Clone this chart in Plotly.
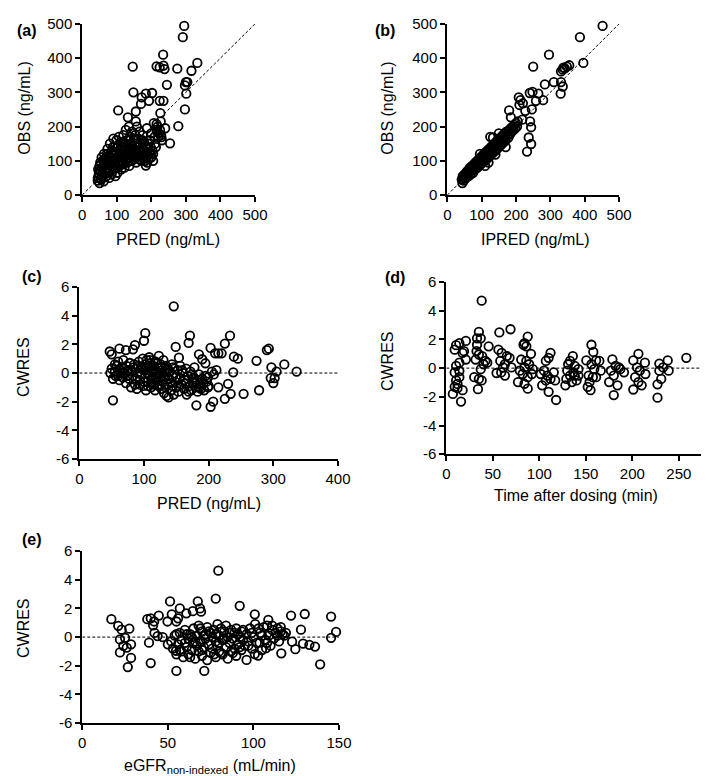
import plotly.graph_objects as go

W, H = 709, 776

# ---------------- Data ----------------
# (a) OBS vs PRED
a_pred = [295, 291, 234, 333, 146, 215, 224, 235, 238, 275, 316, 300, 304, 297, 245, 148, 301, 172, 184, 202,
          193, 170, 224, 235, 297, 104, 155, 278, 215, 227, 132, 155, 254, 226, 229, 215, 240, 230, 205, 200,
          184, 188,
          47, 48, 50, 50, 52, 53, 55, 56, 58, 60, 46, 57,
          62, 63, 65, 66, 68, 70, 72, 73, 75, 76, 78, 79, 80,
          82, 83, 85, 86, 88, 90, 91, 92, 94, 95, 96, 98, 99,
          100, 101, 102, 104, 105, 106, 108, 109, 110, 112, 113, 114, 116, 118, 119, 120,
          121, 122, 124, 125, 126, 128, 129, 130, 132, 133, 135, 136, 138, 139,
          140, 141, 143, 144, 146, 147, 149, 150, 152, 153, 155, 156, 158, 159,
          160, 162, 164, 165, 166, 168, 170, 171, 173, 175, 176, 178, 179,
          180, 182, 183, 185, 187, 189, 190, 192, 194, 196, 198,
          200, 203, 205, 207, 209, 211, 213, 216, 218, 220, 222, 225, 228,
          45, 50, 54, 58, 61, 64, 67, 69, 71, 74, 77, 81, 84, 87, 89, 93, 97, 101, 103, 107,
          111, 115, 117, 123, 127, 131, 134, 137, 142, 148, 151, 157, 163, 167, 174, 181, 186, 191, 197, 45, 53]
a_obs = [494, 461, 410, 386, 375, 376, 373, 378, 368, 369, 363, 330, 330, 320, 322, 300, 296, 285, 296, 298,
         275, 266, 275, 275, 250, 247, 244, 201, 207, 215, 227, 215, 151, 239, 169, 191, 195, 160, 100, 110,
         86, 95,
         52, 62, 35, 85, 95, 70, 45, 110, 80, 100, 75, 58,
         40, 120, 90, 65, 105, 55, 80, 135, 95, 115, 50, 70, 150,
         90, 110, 60, 130, 100, 165, 75, 120, 140, 88, 55, 105, 160,
         125, 95, 65, 145, 110, 170, 85, 130, 100, 155, 75, 120, 140, 90, 175, 110,
         130, 80, 150, 100, 190, 120, 160, 95, 140, 110, 200, 85, 130, 170,
         115, 150, 100, 185, 135, 120, 160, 105, 145, 175, 125, 95, 200, 140,
         115, 165, 130, 105, 185, 150, 120, 100, 140, 175, 125, 110, 155,
         130, 100, 145, 120, 195, 135, 115, 105, 125, 160, 140,
         180, 130, 120, 210, 170, 150, 140, 185, 200, 170, 180, 190, 175,
         50, 70, 90, 65, 85, 105, 75, 95, 120, 65, 88, 100, 120, 80, 140, 95, 125, 140, 80, 115,
         135, 95, 155, 115, 135, 105, 160, 120, 135, 110, 165, 110, 145, 125, 160, 115, 135, 150, 120, 42, 48]

# (b) OBS vs IPRED
b_ipred = [452, 386, 296, 396, 250, 331, 336, 342, 348, 355, 338, 284, 310, 331, 336, 330, 208, 213, 240, 248,
           265, 279, 258, 210, 220, 180, 185, 227, 246, 218, 241, 244, 237, 244, 232, 133,
           42, 44, 45, 46, 48, 50, 52, 54, 55, 57, 58, 60, 62, 63, 65, 66, 68, 70, 72, 73, 75, 77, 78, 80,
           82, 83, 85, 87, 88, 90, 92, 93, 95, 97, 98, 100, 102, 103, 105, 107, 108, 110, 112, 113, 115,
           117, 118, 120, 122, 123, 125, 127, 128, 130, 132, 133, 135, 137, 138, 140, 142, 143, 145, 147,
           148, 150, 152, 153, 155, 157, 158, 160, 162, 163, 165, 167, 168, 170, 172, 175, 178, 180, 183,
           185, 188, 190, 193, 195, 198, 200, 203, 205, 110, 120, 95, 140, 170, 125, 150]
b_obs = [494, 461, 410, 386, 375, 361, 366, 370, 375, 379, 372, 323, 330, 330, 317, 296, 285, 277, 298, 301,
         296, 277, 275, 263, 268, 247, 227, 246, 250, 220, 215, 198, 168, 149, 127, 168,
         45, 35, 55, 50, 42, 60, 48, 58, 65, 52, 70, 62, 55, 75, 68, 80, 60, 72, 85, 78, 65, 82, 90, 75,
         95, 85, 78, 100, 90, 82, 105, 95, 88, 110, 100, 92, 115, 105, 98, 120, 110, 100, 125, 115, 105,
         130, 120, 110, 135, 125, 115, 140, 130, 120, 145, 135, 125, 150, 140, 130, 155, 145, 135, 160,
         150, 140, 165, 155, 145, 170, 160, 150, 175, 165, 155, 180, 170, 160, 185, 175, 168, 190, 178,
         195, 185, 200, 190, 205, 195, 210, 200, 215, 85, 95, 120, 118, 140, 170, 180]

# (c) CWRES vs PRED
c_pred = [146, 102, 100, 171, 169, 233, 225, 149, 47, 50, 62, 72, 86, 83, 203, 210, 215, 220, 185, 239,
          245, 154, 190, 195, 274, 290, 293, 317, 336, 297, 305, 302, 296, 300, 238, 230, 215, 234, 254, 278,
          225, 207, 203, 181, 52, 199,
          48, 50, 52, 55, 56, 58, 60, 62, 63, 65, 67, 68, 70, 72, 73, 75, 77, 78, 80, 82, 83, 85, 86, 88,
          89, 90, 92, 93, 95, 96, 98, 99, 100, 101, 102, 103, 104, 105, 106, 107, 108, 109, 110, 111, 112,
          113, 114, 115, 116, 117, 118, 119, 120, 121, 122, 123, 124, 125, 126, 127, 128, 129, 130, 131,
          132, 133, 134, 135, 136, 137, 138, 139, 140, 142, 143, 144, 145, 146, 147, 148, 150, 152, 153,
          155, 156, 158, 160, 162, 163, 165, 166, 168, 170, 172, 173, 175, 177, 178, 180, 182, 183, 185,
          187, 188, 190, 192, 193, 195, 197, 199, 200, 205, 208, 212,
          55, 60, 64, 69, 74, 79, 84, 87, 91, 94, 97, 100, 104, 106, 109, 112, 115, 118, 121, 124,
          127, 130, 133, 136, 141, 145, 149, 154, 159, 164, 169, 174, 179, 186]
c_cwres = [4.65, 2.78, 2.25, 2.6, 2.1, 2.6, 2.05, 1.82, 1.5, 1.3, 1.7, 1.6, 1.95, 1.65, 1.75, 1.37, 1.37, 1.37, 1.3, 1.14,
           1.0, 1.07, 0.96, 0.68, 0.85, 1.6, 1.7, 0.6, 0.1, 0.4, 0.1, -0.35, -0.35, -0.7, 0.05, -0.75, -1.0, -1.45, -1.45, -1.2,
           -1.8, -2.0, -2.35, -2.25, -1.9, -1.0,
           0, 0.3, -0.4, 0.1, -0.2, 0.5, 0.8, -0.5, 0.2, 0.4, -0.3, 0.9, 0, -0.7, 0.5, 0.2, -0.4, 0.7, -1.0, 0.1, -0.2, 0.6, -0.8, 0.3,
           -1.1, 0, 0.8, -0.5, 0.4, -0.1, 1.0, -0.9, 0.2, -0.3, 0.6, -1.2, 0.9, 0, -0.6, 0.4, 1.1, -0.2, 0.7, -1.0, 0.1,
           -0.4, 0.5, -0.8, 0.3, -1.2, 0.8, -0.1, -0.5, 0.4, -0.9, 1.2, 0, -0.3, 0.6, -1.1, 0.2, -0.6, 0.9, -1.4,
           0.1, -0.2, 0.5, -1.6, -0.8, 0.3, -1.7, -0.4, 0.1, -1.2, 0.6, -0.9, -0.2, -1.5, 0.3, -0.6, -1.0, 0.2, -1.3,
           -0.4, 0.5, -0.8, 0, -1.1, -0.5, 0.3, -1.5, -0.2, -0.9, 0.1, -1.2, -0.6, -0.3, 0.4, -1.0, -0.5, -1.3, -0.1,
           -0.8, -1.1, -0.4, -0.7, -1.2, -0.2, -0.6, -0.3, -0.9, 0.1, -0.1, 0.2,
           0.6, -0.2, 0.0, 0.3, -0.2, 0.2, 0.4, -0.4, 0.5, -0.8, 0.3, -0.6, 0.4, -0.9, 0.9, -0.7, 0.1, -0.3, 0.7, -0.8,
           0.4, -0.2, -1.0, 0.2, -0.7, 0.4, -0.3, -0.9, 0.2, -0.7, -1.3, -0.1, -0.7, -1.0]

# (d) CWRES vs time after dosing
d_time = [7, 9, 10.5, 14, 21, 19, 21, 10.5, 14, 9, 10.5, 14, 9, 12, 17.5, 15.8, 12, 14, 17.5,
          35, 33, 37, 33, 35, 38.5, 44, 45.5, 30, 35, 38, 34, 32.5, 42, 40, 31.5, 37, 38,
          57, 69, 56, 59.5, 65, 68, 58, 63, 61, 70, 54, 63, 59,
          87.5, 84, 86, 83, 91, 80.5, 89, 84, 93, 82, 87.5, 77, 84, 87.5, 79, 86, 92,
          112, 110, 107, 101.5, 105, 108.5, 115.5, 103, 110, 118, 112, 107, 117,
          136, 133, 131, 138, 130, 136.5, 142, 129, 135, 140, 138, 128, 142, 133,
          156, 158, 150.5, 161, 164.5, 156, 159, 166, 153, 157.5, 154, 152, 155, 161,
          178.5, 182, 185.5, 177, 191, 180, 175, 184, 180, 187,
          206.5, 201, 213.5, 205, 208, 214, 203, 206.5, 210, 201,
          238, 229, 233, 239, 231, 227, 227, 229, 258]
d_cwres = [-1.8, 1.29, 1.6, 1.74, 1.9, 1.18, 0.6, 0.16, 0.38, -0.3, -0.86, -0.63, -1.3, -1.4, -1.54, -2.33, -1.1, -0.2, 1.06,
           2.53, 2.08, 2.08, 1.63, 0.95, 0.84, 0.38, 1.52, -0.63, -0.75, -0.86, -1.47, 1.18, 0.5, 0.27, 0.6, -0.07, 4.7,
           2.49, 2.71, 1.29, 1.06, 0.84, 0.72, 0.5, 0.27, 0.05, 0.05, -0.34, -0.52, -0.3,
           2.2, 1.74, 1.52, 1.63, 1.0, 0.6, 0.27, 0.05, -0.07, -0.41, -0.63, -0.97, -1.09, -1.43, -0.18, 0.5, -0.41,
           1.06, 0.72, 0.5, -0.41, -0.18, -0.52, -0.29, -1.2, -1.65, -2.22, -0.75, -0.86, -0.86,
           0.84, 0.5, 0.27, 0.16, -0.18, -0.29, -0.07, -0.75, -0.97, -0.86, -0.52, -1.2, -0.52, -0.52,
           1.63, 1.13, 0.54, 0.54, 0.5, 0.27, -0.07, -0.18, -0.52, -0.63, -0.97, -1.31, -1.54, -0.63,
           0.61, 0.16, 0.05, -0.18, -0.29, -0.52, -0.97, -1.2, -1.88, -0.07,
           1.0, 0.54, 0.38, 0.05, -0.18, -0.41, -0.63, -0.97, -1.2, -1.49,
           0.54, 0.32, 0.05, -0.18, -0.75, -1.13, -2.06, -0.18, 0.72]

# (e) CWRES vs eGFR (non-indexed)
e_egfr = [79.5, 17, 21, 23, 27.5, 22, 25, 28.5, 24, 26, 22, 28.5, 26.6, 38, 40, 42, 44.7, 41.4, 42.2, 44,
          39, 40, 51.3, 57, 52.3, 56, 49.8, 55, 47, 50, 55, 60.8, 64.6, 67.5, 68.8, 69.4, 78, 92, 71.3,
          100.8, 108.7, 122, 130, 145.4, 148.3, 145.4, 127.8, 122.6, 124.5, 129, 132.7, 136, 139, 116.3,
          107.4, 96, 100.8, 102.7, 103.6, 54.8,
          52, 53, 54, 55, 56, 57, 58, 58, 59, 60, 61, 62, 62, 63, 64, 65, 65, 66, 67, 67, 68, 68, 69, 70,
          70, 71, 72, 72, 73, 73, 74, 75, 75, 76, 76, 77, 78, 78, 79, 79, 80, 80, 81, 82, 82, 83, 84, 84,
          85, 85, 86, 87, 87, 88, 89, 89, 90, 90, 91, 92, 93, 93, 94, 95, 96, 97, 98, 99, 100, 101, 102,
          104, 105, 106, 107, 108, 109, 110, 111, 112, 113, 114, 115, 116, 117, 118,
          55, 57, 60, 61, 63, 64, 66, 69, 70, 71, 74, 77, 78, 80, 81, 83, 86, 88, 91, 92,
          94, 97, 99, 103, 105, 108, 111, 114, 116, 119]
e_cwres = [4.63, 1.25, 0.79, 0.52, 0.59, -0.16, -0.05, -0.5, -0.61, -0.73, -1.07, -1.45, -2.09, 1.25, 1.31, 1.09, 1.5, 0.82, 0.29, 0.07,
           -0.39, -1.81, 2.49, 2.0, 1.59, 1.31, 1.09, 1.09, 0, -0.5, -2.36, 1.66, 1.81, 2.49, 2.0, 1.77, 2.68, 2.18, -2.36,
           1.59, 1.2, 1.5, 1.61, 1.43, 0.36, -0.05, 0.52, -0.32, -0.84, -0.45, -0.54, -0.66, -1.9, -1.13,
           -0.77, -1.59, -1.18, -1.29, -0.39, -0.95,
           -0.3, -0.8, 0.1, -1.2, -0.5, 0.3, -1.0, -0.2, -1.4, 0.5, -0.7, -0.1, -1.2, 0.2, -0.9, -0.4, 0.6, -1.5, 0.1, -0.6, 0.8, -1.0, -0.3, 0.4,
           -1.3, -0.7, 0.2, -0.1, -1.6, 0.7, -0.5, 0.3, -1.1, 0, -0.8, 0.5, -0.3, -1.4, 0.9, -0.6, 0.1, -1.0, 0.6, -0.2, -1.2, 0.4, -0.7, 0.8,
           -1.5, 0, -0.4, 0.5, -1.0, -0.1, -0.8, 0.3, -1.3, 0.6, -0.5, 0, -0.9, 0.4, -0.2, -0.6, 0.2, -0.3, 0.6, -0.8, 0, 0.9, -0.4,
           0.3, -0.9, 0.7, -0.2, 0.8, 0.1, -0.6, 0.5, -0.1, 0.3, 0.6, -0.3, 0.4, 0.2, 0.1,
           0.2, -0.9, -0.4, 0.2, -1.4, 0.0, -0.3, 0.6, -0.9, 0.1, 0.4, -1.2, 0.2, -0.4, -1.1, -0.1, 0.3, -1.1, 0.2, -0.7,
           0.5, -0.6, 0.3, 0.6, 0.1, -0.4, 0.8, 0.1, 0.7, 0.3]

# tick labels
tick_obs = [0, 100, 200, 300, 400, 500]
tick_res = [-6, -4, -2, 0, 2, 4, 6]
tick_res_text = ["-6", "-4", "-2", "0", "2", "4", "6"]
tick_c = [0, 100, 200, 300, 400]
tick_d = [0, 50, 100, 150, 200, 250]
tick_e = [0, 50, 100, 150]

# ---------------- Figure ----------------
FONT = "Liberation Sans, Arial, sans-serif"


def px(x):
    return x / W


def py(y):
    return 1 - y / H


fig = go.Figure()

marker = dict(symbol="circle-open", size=8.5, color="black", line=dict(width=1.8, color="black"))
ref_line = dict(color="black", width=1, dash="3px,2px")

panels = [
    ("a", "x", "y", a_pred, a_obs),
    ("b", "x2", "y2", b_ipred, b_obs),
    ("c", "x3", "y3", c_pred, c_cwres),
    ("d", "x4", "y4", d_time, d_cwres),
    ("e", "x5", "y5", e_egfr, e_cwres),
]

# reference lines
fig.add_trace(go.Scatter(x=[0, 500], y=[0, 500], mode="lines", line=ref_line, xaxis="x", yaxis="y", hoverinfo="skip"))
fig.add_trace(go.Scatter(x=[0, 500], y=[0, 500], mode="lines", line=ref_line, xaxis="x2", yaxis="y2", hoverinfo="skip"))
fig.add_trace(go.Scatter(x=[0, 400], y=[0, 0], mode="lines", line=ref_line, xaxis="x3", yaxis="y3", hoverinfo="skip"))
fig.add_trace(go.Scatter(x=[0, 300], y=[0, 0], mode="lines", line=ref_line, xaxis="x4", yaxis="y4", hoverinfo="skip"))
fig.add_trace(go.Scatter(x=[0, 150], y=[0, 0], mode="lines", line=ref_line, xaxis="x5", yaxis="y5", hoverinfo="skip"))

for name, xa, ya, xs, ys in panels:
    fig.add_trace(go.Scatter(x=xs, y=ys, mode="markers", marker=marker, xaxis=xa, yaxis=ya,
                             cliponaxis=False))

axis_common = dict(showline=True, linecolor="black", linewidth=2, ticks="outside", ticklen=5,
                   tickwidth=2, tickcolor="black", showgrid=False, zeroline=False,
                   tickfont=dict(family=FONT, size=15, color="black"), mirror=False)

layout = dict(
    width=W, height=H, margin=dict(l=0, r=0, t=0, b=0),
    paper_bgcolor="white", plot_bgcolor="white", showlegend=False,
    font=dict(family=FONT, color="black"),
)

layout["xaxis"] = dict(domain=[px(72), px(249)], range=[0, 500], tickvals=tick_obs, anchor="y", **axis_common)
layout["yaxis"] = dict(domain=[py(182), py(7)], range=[0, 500], tickvals=tick_obs, anchor="x", **axis_common)
layout["xaxis2"] = dict(domain=[px(446), px(622)], range=[0, 500], tickvals=tick_obs, anchor="y2", **axis_common)
layout["yaxis2"] = dict(domain=[py(182), py(7)], range=[0, 500], tickvals=tick_obs, anchor="x2", **axis_common)
layout["xaxis3"] = dict(domain=[px(69), px(334)], range=[0, 400], tickvals=tick_c, anchor="y3", **axis_common)
layout["yaxis3"] = dict(domain=[py(452), py(276)], range=[-6, 6], tickvals=tick_res, ticktext=tick_res_text,
                        anchor="x3", **axis_common)
layout["xaxis4"] = dict(domain=[px(445), 1.0], range=[0, 277], tickvals=tick_d, anchor="y4", **axis_common)
layout["yaxis4"] = dict(domain=[py(447), py(271)], range=[-6, 6], tickvals=tick_res, ticktext=tick_res_text,
                        anchor="x4", **axis_common)
layout["xaxis5"] = dict(domain=[px(72), px(335)], range=[0, 150], tickvals=tick_e, anchor="y5", **axis_common)
layout["yaxis5"] = dict(domain=[py(722), py(546)], range=[-6, 6], tickvals=tick_res, ticktext=tick_res_text,
                        anchor="x5", **axis_common)

fig.update_layout(**layout)

ann = []


def text(x, y, s, size=16, bold=False, angle=0):
    ann.append(dict(x=px(x), y=py(y), xref="paper", yref="paper", text=("<b>%s</b>" % s) if bold else s,
                    showarrow=False, textangle=angle, xanchor="center", yanchor="middle",
                    font=dict(family=FONT, size=size, color="black")))


# panel labels
text(15, 14, "(a)", bold=True)
text(382, 14, "(b)", bold=True)
text(20, 265, "(c)", bold=True)
text(392, 266, "(d)", bold=True)
text(20, 534, "(e)", bold=True)

# x titles
text(160, 227, "PRED (ng/mL)")
text(536, 227, "IPRED (ng/mL)")
text(202, 497, "PRED (ng/mL)")
text(578, 489, "Time after dosing (min)")
text(203, 766, "eGFR<sub>non-indexed</sub> (mL/min)")

# y titles
text(13, 93, "OBS (ng/mL)", angle=-90)
text(385, 93, "OBS (ng/mL)", angle=-90)
text(11, 358, "CWRES", angle=-90)
text(384, 352, "CWRES", angle=-90)
text(12, 625, "CWRES", angle=-90)

fig.update_layout(annotations=ann)

fig.write_html("out.html")
